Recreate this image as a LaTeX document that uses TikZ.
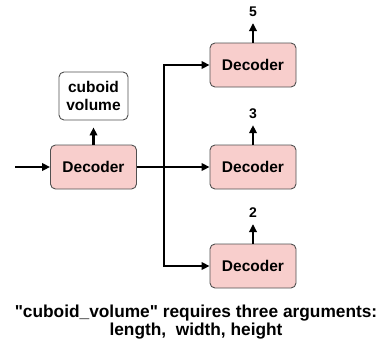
\documentclass[tikz,border=0pt]{standalone}
\usepackage{fontspec}
\setmainfont{Liberation Sans}
\newfontfamily\plainsans{Liberation Sans}
\usetikzlibrary{arrows.meta}
\definecolor{decfill}{RGB}{248,206,204}
\definecolor{boxline}{RGB}{80,80,80}
\tikzset{
  decbox/.style={draw=boxline, fill=decfill, rounded corners=5pt, line width=0.9pt,
    minimum width=86pt, minimum height=44pt, font=\fontsize{15.5}{18}\selectfont\bfseries},
  outbox/.style={draw=boxline, fill=white, rounded corners=5pt, line width=0.9pt,
    minimum width=69pt, minimum height=48pt, align=center, font=\fontsize{15.5}{18}\selectfont\bfseries},
  numlabel/.style={font=\fontsize{14}{15}\selectfont\bfseries, inner sep=1pt},
  conn/.style={line width=2.2pt, -{Triangle[length=8pt,width=7.5pt]}},
}
\begin{document}
\begin{tikzpicture}[x=1pt,y=-1pt]
				\useasboundingbox (0,0) rectangle (384,354);
				\node[decbox] (dec)at(93.5, 167) {Decoder};
				\node[outbox] (vol)at(93.5, 96) {cuboid\\volume};
				\node[decbox] (d5)at(253, 65) {Decoder};
				\node[decbox] (d3)at(253, 167) {Decoder};
				\node[decbox] (d2)at(253, 266) {Decoder};
				\node[numlabel] (n5)at(253, 12) {5};
				\node[numlabel] (n3)at(253, 114) {3};
				\node[numlabel] (n2)at(253, 213) {2};
				\coordinate (in)at(15, 167);
				\coordinate (j)at(164, 167);
				\draw[conn] (in) -- (dec.west);
				\draw[line width=2.2pt] (dec.east) -- (j);
				\draw[conn] (j) |- (d5.west);
				\draw[conn] (j) -- (d3.west);
				\draw[conn] (j) |- (d2.west);
				\draw[conn, shorten >=7pt] (dec.north) -- (vol.south);
				\draw[conn, shorten >=5pt] (d5.north) -- (n5.south);
				\draw[conn, shorten >=5pt] (d3.north) -- (n3.south);
				\draw[conn, shorten >=5pt] (d2.north) -- (n2.south);
				\node[align=center, font=\plainsans\fontsize{17.3}{16}\selectfont\bfseries] (caption)at(196, 322) {"cuboid\_volume" requires three arguments:\\length,~ width, height};
			\end{tikzpicture}
\end{document}
